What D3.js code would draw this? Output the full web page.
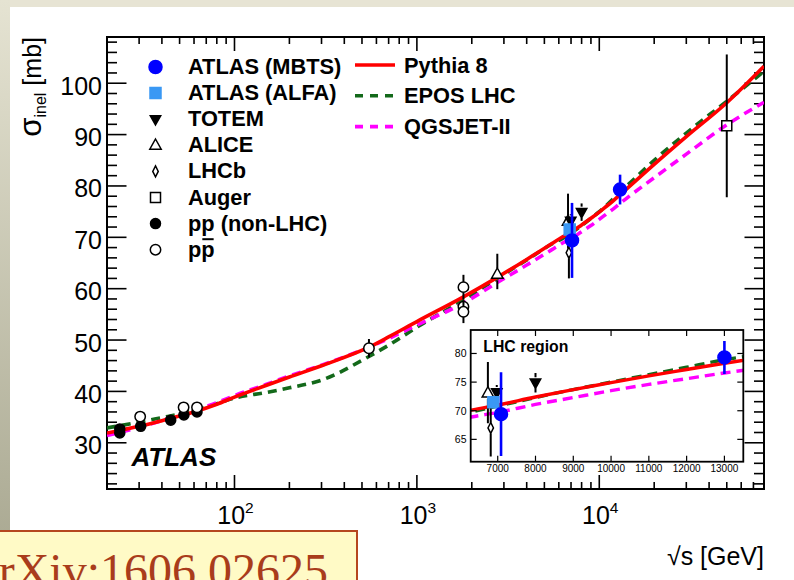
<!DOCTYPE html>
<html>
<head>
<meta charset="utf-8">
<script src="https://cdn.jsdelivr.net/npm/d3@7"></script>
<style>
  html, body { margin: 0; padding: 0; background: #fff; }
  svg { display: block; }
  text { font-family: "Liberation Sans", Arial, Helvetica, sans-serif; fill: #000; }
</style>
</head>
<body>
<svg id="chart" width="794" height="580"></svg>
<script>
// ---- Model predictions: sqrt(s) [GeV] vs sigma_inel [mb] ----
const modelEnergies = [20, 30, 40, 50, 60, 80, 100, 150, 200, 300, 546, 700, 1000, 1800, 2760, 4000, 5500, 6300, 7000, 8000, 9000, 10000, 11000, 12000, 13000, 14000, 20000, 30000, 50000, 80000];
const pythia8  = [31.9, 33.2, 34.3, 35.2, 36.0, 37.5, 38.9, 41.2, 42.8, 45.0, 48.6, 50.6, 53.6, 58.4, 62.2, 65.7, 68.8, 70.1, 71.0, 72.4, 73.7, 74.9, 76.1, 77.2, 78.3, 79.3, 84.2, 89.6, 96.2, 103.3];
const eposLHC  = [32.9, 34.0, 34.9, 35.6, 36.3, 37.6, 38.7, 39.8, 40.7, 42.2, 46.8, 49.0, 52.5, 57.8, 62.0, 65.6, 68.7, 69.8, 70.8, 72.3, 73.7, 75.0, 76.3, 77.6, 78.9, 79.9, 85.0, 90.3, 96.5, 102.3];
const qgsjetII = [31.4, 33.0, 34.3, 35.4, 36.3, 37.8, 39.2, 41.4, 43.0, 45.1, 48.6, 50.3, 52.9, 57.2, 61.2, 64.6, 67.6, 68.9, 69.7, 71.1, 72.3, 73.5, 74.6, 75.6, 76.6, 77.5, 81.6, 86.2, 91.9, 96.3];

// ---- Measurements ----
const mbtsEnergy = [7088, 13000];
const mbtsSigma  = [69.4, 79.3];
const mbtsErr    = [7.3, 2.9];

const alfaEnergy = [6884];
const alfaSigma  = [71.5];
const alfaErr    = [0.9];

const totemEnergy = [6975, 8000];
const totemSigma  = [73.2, 74.9];
const totemErr    = [1.3, 1.7];

const aliceEnergy  = [2760, 6740];
const aliceSigma   = [62.8, 73.1];
const aliceErrUp   = [4.0, 5.4];
const aliceErrDown = [2.9, 5.3];

const lhcbEnergy = [6815];
const lhcbSigma  = [67.0];
const lhcbErr    = [5.0];

const augerEnergy = [50000];
const augerSigma  = [91.7];
const augerErr    = [13.9];

const ppEnergy = [23.5, 23.5, 30.6, 44.7, 52.8, 62.3];
const ppSigma  = [32.7, 31.9, 33.2, 34.4, 35.4, 36.0];

const ppbarEnergy = [30.4, 52.6, 62.3, 546, 1800, 1800, 1800];
const ppbarSigma  = [35.1, 36.9, 36.9, 48.4, 60.3, 56.5, 55.5];
const ppbarErr    = [0, 0, 0, 1.8, 2.4, 1.2, 2.2];

// ---- Axis ticks ----
const xMajorTicks = [100, 1000, 10000];
const xMajorExp   = ["2", "3", "4"];
const yMajorTicks = [30, 40, 50, 60, 70, 80, 90, 100];
const insetXTicks = [7000, 8000, 9000, 10000, 11000, 12000, 13000];
const insetYTicks = [65, 70, 75, 80];

// ---- Legend entries ----
const markerLegend = ["ATLAS (MBTS)", "ATLAS (ALFA)", "TOTEM", "ALICE", "LHCb", "Auger", "pp (non-LHC)", "pp"];
const modelLegend  = ["Pythia 8", "EPOS LHC", "QGSJET-II"];

const COL = { red: "#ff0000", green: "#13691a", magenta: "#ff00ff", blue: "#0000ff", alfa: "#3a98f4" };

const svg = d3.select("#chart");
const defs = svg.append("defs");

// page background and edge strips
const edge = defs.append("linearGradient").attr("id", "edgeGrad")
  .attr("x1", 0).attr("y1", 0).attr("x2", 0).attr("y2", 1);
edge.append("stop").attr("offset", "0%").attr("stop-color", "#e5e3d2");
edge.append("stop").attr("offset", "100%").attr("stop-color", "#a7a68f");
svg.append("rect").attr("width", 794).attr("height", 580).attr("fill", "#fff");
svg.append("rect").attr("x", 0).attr("y", 0).attr("width", 794).attr("height", 7).attr("fill", "#e7e4d4");
svg.append("rect").attr("x", 0).attr("y", 0).attr("width", 10).attr("height", 580).attr("fill", "url(#edgeGrad)");

// ---- Main frame ----
const F = { l: 107, r: 764, t: 37, b: 489 };
const x = d3.scaleLog().domain([20, 80000]).range([F.l, F.r]);
const y = d3.scaleLinear().domain([21, 109]).range([F.b, F.t]);

defs.append("clipPath").attr("id", "mainClip")
  .append("rect").attr("x", F.l).attr("y", F.t).attr("width", F.r - F.l).attr("height", F.b - F.t);

const axes = svg.append("g").attr("stroke", "#000").attr("stroke-width", 1.6);

// y ticks (left and right, pointing inward)
const yMinor = d3.range(22, 109, 2).filter(v => v % 10 !== 0);
yMajorTicks.forEach(v => {
  axes.append("line").attr("x1", F.l).attr("x2", F.l + 19.5).attr("y1", y(v)).attr("y2", y(v));
  axes.append("line").attr("x1", F.r).attr("x2", F.r - 19.5).attr("y1", y(v)).attr("y2", y(v));
});
yMinor.forEach(v => {
  axes.append("line").attr("x1", F.l).attr("x2", F.l + 10).attr("y1", y(v)).attr("y2", y(v));
  axes.append("line").attr("x1", F.r).attr("x2", F.r - 10).attr("y1", y(v)).attr("y2", y(v));
});
// x ticks (bottom and top)
const xMinor = [];
[10, 100, 1000, 10000].forEach(d => { for (let k = 2; k <= 9; k++) { const v = k * d; if (v >= 20 && v <= 80000) xMinor.push(v); } });
xMajorTicks.forEach(v => {
  axes.append("line").attr("x1", x(v)).attr("x2", x(v)).attr("y1", F.b).attr("y2", F.b - 14);
  axes.append("line").attr("x1", x(v)).attr("x2", x(v)).attr("y1", F.t).attr("y2", F.t + 14);
});
xMinor.forEach(v => {
  axes.append("line").attr("x1", x(v)).attr("x2", x(v)).attr("y1", F.b).attr("y2", F.b - 7);
  axes.append("line").attr("x1", x(v)).attr("x2", x(v)).attr("y1", F.t).attr("y2", F.t + 7);
});
svg.append("rect").attr("x", F.l).attr("y", F.t).attr("width", F.r - F.l).attr("height", F.b - F.t)
  .attr("fill", "none").attr("stroke", "#000").attr("stroke-width", 2);

// tick labels
yMajorTicks.forEach(v => {
  svg.append("text").attr("x", 102).attr("y", y(v) + 11.5).attr("text-anchor", "end")
    .attr("font-size", 25).text(v);
});
xMajorTicks.forEach((v, i) => {
  const t = svg.append("text").attr("x", x(v) + 1).attr("y", 524).attr("text-anchor", "middle").attr("font-size", 25);
  t.append("tspan").text("10");
  t.append("tspan").attr("dy", -11).attr("font-size", 15.5).text(xMajorExp[i]);
});

// axis titles
const yt = svg.append("text").attr("transform", "translate(41,37) rotate(-90)")
  .attr("text-anchor", "end").attr("font-size", 25);
yt.append("tspan").attr("font-size", 31).text("σ");
yt.append("tspan").attr("font-size", 16).attr("dy", 5).text("inel");
yt.append("tspan").attr("dy", -5).text(" [mb]");

svg.append("text").attr("x", 764).attr("y", 565).attr("text-anchor", "end")
  .attr("font-size", 25).text("√s [GeV]");

// ---- Model curves ----
function drawCurves(g, sx, sy, lw, dash) {
  const mk = vals => d3.line().x((d, i) => sx(modelEnergies[i])).y(d => sy(d)).curve(d3.curveMonotoneX)(vals);
  g.append("path").attr("d", mk(eposLHC)).attr("fill", "none").attr("stroke", COL.green)
    .attr("stroke-width", lw).attr("stroke-dasharray", dash);
  g.append("path").attr("d", mk(qgsjetII)).attr("fill", "none").attr("stroke", COL.magenta)
    .attr("stroke-width", lw).attr("stroke-dasharray", dash);
  g.append("path").attr("d", mk(pythia8)).attr("fill", "none").attr("stroke", COL.red)
    .attr("stroke-width", lw);
}
const mainG = svg.append("g").attr("clip-path", "url(#mainClip)");
drawCurves(mainG, x, y, 3.6, "9,6");

// ---- Markers ----
function markerPath(type, r) {
  switch (type) {
    case "circle": return d3.symbol(d3.symbolCircle, Math.PI * r * r)();
    case "square": return `M${-r},${-r}H${r}V${r}H${-r}Z`;
    case "triUp": return `M0,${-r * 1.05}L${r * 0.95},${r * 0.65}L${-r * 0.95},${r * 0.65}Z`;
    case "triDown": return `M0,${r * 1.05}L${r * 0.95},${-r * 0.65}L${-r * 0.95},${-r * 0.65}Z`;
    case "diamond": return `M0,${-r}L${r * 0.5},0L0,${r}L${-r * 0.5},0Z`;
  }
}
const styles = {
  mbts:  { type: "circle",  r: 6.5, fill: COL.blue, stroke: COL.blue, bar: COL.blue, bw: 2.6 },
  alfa:  { type: "square",  r: 5.5, fill: COL.alfa, stroke: COL.alfa, bar: COL.alfa, bw: 2 },
  totem: { type: "triDown", r: 5.5, fill: "#000", stroke: "#000", bar: "#000", bw: 2 },
  alice: { type: "triUp",   r: 6,   fill: "#fff", stroke: "#000", bar: "#000", bw: 2 },
  lhcb:  { type: "diamond", r: 5.5, fill: "#fff", stroke: "#000", bar: "#000", bw: 2 },
  auger: { type: "square",  r: 5,   fill: "none", stroke: "#000", bar: "#000", bw: 2 },
  pp:    { type: "circle",  r: 5,   fill: "#000", stroke: "#000", bar: "#000", bw: 2 },
  ppbar: { type: "circle",  r: 5.2, fill: "#fff", stroke: "#000", bar: "#000", bw: 2 }
};

function drawSeries(g, sx, sy, st, es, vs, up, dn, inRange) {
  es.forEach((e, i) => {
    if (inRange && !inRange(e)) return;
    const px = sx(e), py = sy(vs[i]);
    const u = up ? up[i] : 0, d = dn ? dn[i] : 0;
    const gap = st.r;
    if (u > 0 && sy(vs[i] + u) < py - gap)
      g.append("line").attr("x1", px).attr("x2", px).attr("y1", py - gap).attr("y2", sy(vs[i] + u))
        .attr("stroke", st.bar).attr("stroke-width", st.bw);
    if (d > 0 && sy(vs[i] - d) > py + gap)
      g.append("line").attr("x1", px).attr("x2", px).attr("y1", py + gap).attr("y2", sy(vs[i] - d))
        .attr("stroke", st.bar).attr("stroke-width", st.bw);
    g.append("path").attr("d", markerPath(st.type, st.r)).attr("transform", `translate(${px},${py})`)
      .attr("fill", st.fill).attr("stroke", st.stroke).attr("stroke-width", 1.5);
  });
}
function drawAll(g, sx, sy, inRange) {
  drawSeries(g, sx, sy, styles.pp, ppEnergy, ppSigma, null, null, inRange);
  drawSeries(g, sx, sy, styles.ppbar, ppbarEnergy, ppbarSigma, ppbarErr, ppbarErr, inRange);
  drawSeries(g, sx, sy, styles.auger, augerEnergy, augerSigma, augerErr, augerErr, inRange);
  drawSeries(g, sx, sy, styles.alice, aliceEnergy, aliceSigma, aliceErrUp, aliceErrDown, inRange);
  drawSeries(g, sx, sy, styles.lhcb, lhcbEnergy, lhcbSigma, lhcbErr, lhcbErr, inRange);
  drawSeries(g, sx, sy, styles.totem, totemEnergy, totemSigma, totemErr, totemErr, inRange);
  drawSeries(g, sx, sy, styles.alfa, alfaEnergy, alfaSigma, alfaErr, alfaErr, inRange);
  drawSeries(g, sx, sy, styles.mbts, mbtsEnergy, mbtsSigma, mbtsErr, mbtsErr, inRange);
}
drawAll(mainG, x, y, null);

// ---- Legend ----
const legKeys = ["mbts", "alfa", "totem", "alice", "lhcb", "auger", "pp", "ppbar"];
markerLegend.forEach((label, i) => {
  const by = 74 + i * 26.1;
  const st = styles[legKeys[i]];
  svg.append("path").attr("d", markerPath(st.type, st.r)).attr("transform", `translate(155.5,${by - 7})`)
    .attr("fill", st.fill === "none" ? "#fff" : st.fill).attr("stroke", st.stroke).attr("stroke-width", 1.5);
  const t = svg.append("text").attr("x", 188).attr("y", by).attr("font-size", 21.8).attr("font-weight", "bold").text(label);
  if (legKeys[i] === "ppbar") {
    // antiproton bar over the second "p"
    const n = t.node();
    const p0 = n.getStartPositionOfChar(1), w = n.getSubStringLength(1, 1);
    svg.append("line").attr("x1", p0.x + 1).attr("x2", p0.x + w - 1).attr("y1", by - 17.5).attr("y2", by - 17.5)
      .attr("stroke", "#000").attr("stroke-width", 2);
  }
});
const modelCols = [COL.red, COL.green, COL.magenta];
modelLegend.forEach((label, i) => {
  const ly = 65 + i * 30.8;
  svg.append("line").attr("x1", 355).attr("x2", 395).attr("y1", ly).attr("y2", ly)
    .attr("stroke", modelCols[i]).attr("stroke-width", 3.6)
    .attr("stroke-dasharray", i === 0 ? null : "8,7");
  svg.append("text").attr("x", 404).attr("y", ly + 7.5).attr("font-size", 21.8).attr("font-weight", "bold").text(label);
});

// ATLAS label
svg.append("text").attr("x", 131.5).attr("y", 466).attr("font-size", 26)
  .attr("font-weight", "bold").attr("font-style", "italic").text("ATLAS");

// ---- Inset: LHC region ----
const I = { l: 470.7, r: 743.3, t: 330, b: 461.7 };
const xi = d3.scaleLinear().domain([6285, 13500]).range([I.l, I.r]);
const yi = d3.scaleLinear().domain([61.1, 84.1]).range([I.b, I.t]);
defs.append("clipPath").attr("id", "insetClip")
  .append("rect").attr("x", I.l).attr("y", I.t).attr("width", I.r - I.l).attr("height", I.b - I.t);
svg.append("rect").attr("x", I.l).attr("y", I.t).attr("width", I.r - I.l).attr("height", I.b - I.t).attr("fill", "#fff");
const insetG = svg.append("g").attr("clip-path", "url(#insetClip)");
drawCurves(insetG, xi, yi, 3.4, "10,6");
drawAll(insetG, xi, yi, e => e >= 6000 && e <= 14000);

const iax = svg.append("g").attr("stroke", "#000").attr("stroke-width", 1.2);
insetXTicks.forEach(v => {
  iax.append("line").attr("x1", xi(v)).attr("x2", xi(v)).attr("y1", I.b).attr("y2", I.b - 6);
  iax.append("line").attr("x1", xi(v)).attr("x2", xi(v)).attr("y1", I.t).attr("y2", I.t + 6);
  svg.append("text").attr("x", xi(v)).attr("y", 471.5).attr("text-anchor", "middle").attr("font-size", 10).text(v);
});
insetYTicks.forEach(v => {
  iax.append("line").attr("x1", I.l).attr("x2", I.l + 6).attr("y1", yi(v)).attr("y2", yi(v));
  iax.append("line").attr("x1", I.r).attr("x2", I.r - 6).attr("y1", yi(v)).attr("y2", yi(v));
  svg.append("text").attr("x", 466.5).attr("y", yi(v) + 4).attr("text-anchor", "end").attr("font-size", 10.5).text(v);
});
svg.append("rect").attr("x", I.l).attr("y", I.t).attr("width", I.r - I.l).attr("height", I.b - I.t)
  .attr("fill", "none").attr("stroke", "#000").attr("stroke-width", 1.8);
svg.append("text").attr("x", 483.3).attr("y", 351.7).attr("font-size", 15.8).attr("font-weight", "bold").text("LHC region");

// ---- Reference tag ----
svg.append("rect").attr("x", -2).attr("y", 531).attr("width", 359).attr("height", 60)
  .attr("fill", "#fffac6").attr("stroke", "#b5461e").attr("stroke-width", 2);
svg.append("text").attr("x", 328).attr("y", 587).attr("font-size", 48).attr("text-anchor", "end")
  .style("font-family", '"Liberation Serif", "DejaVu Serif", serif').style("fill", "#a93c1b")
  .text("arXiv:1606.02625");
</script>
</body>
</html>
